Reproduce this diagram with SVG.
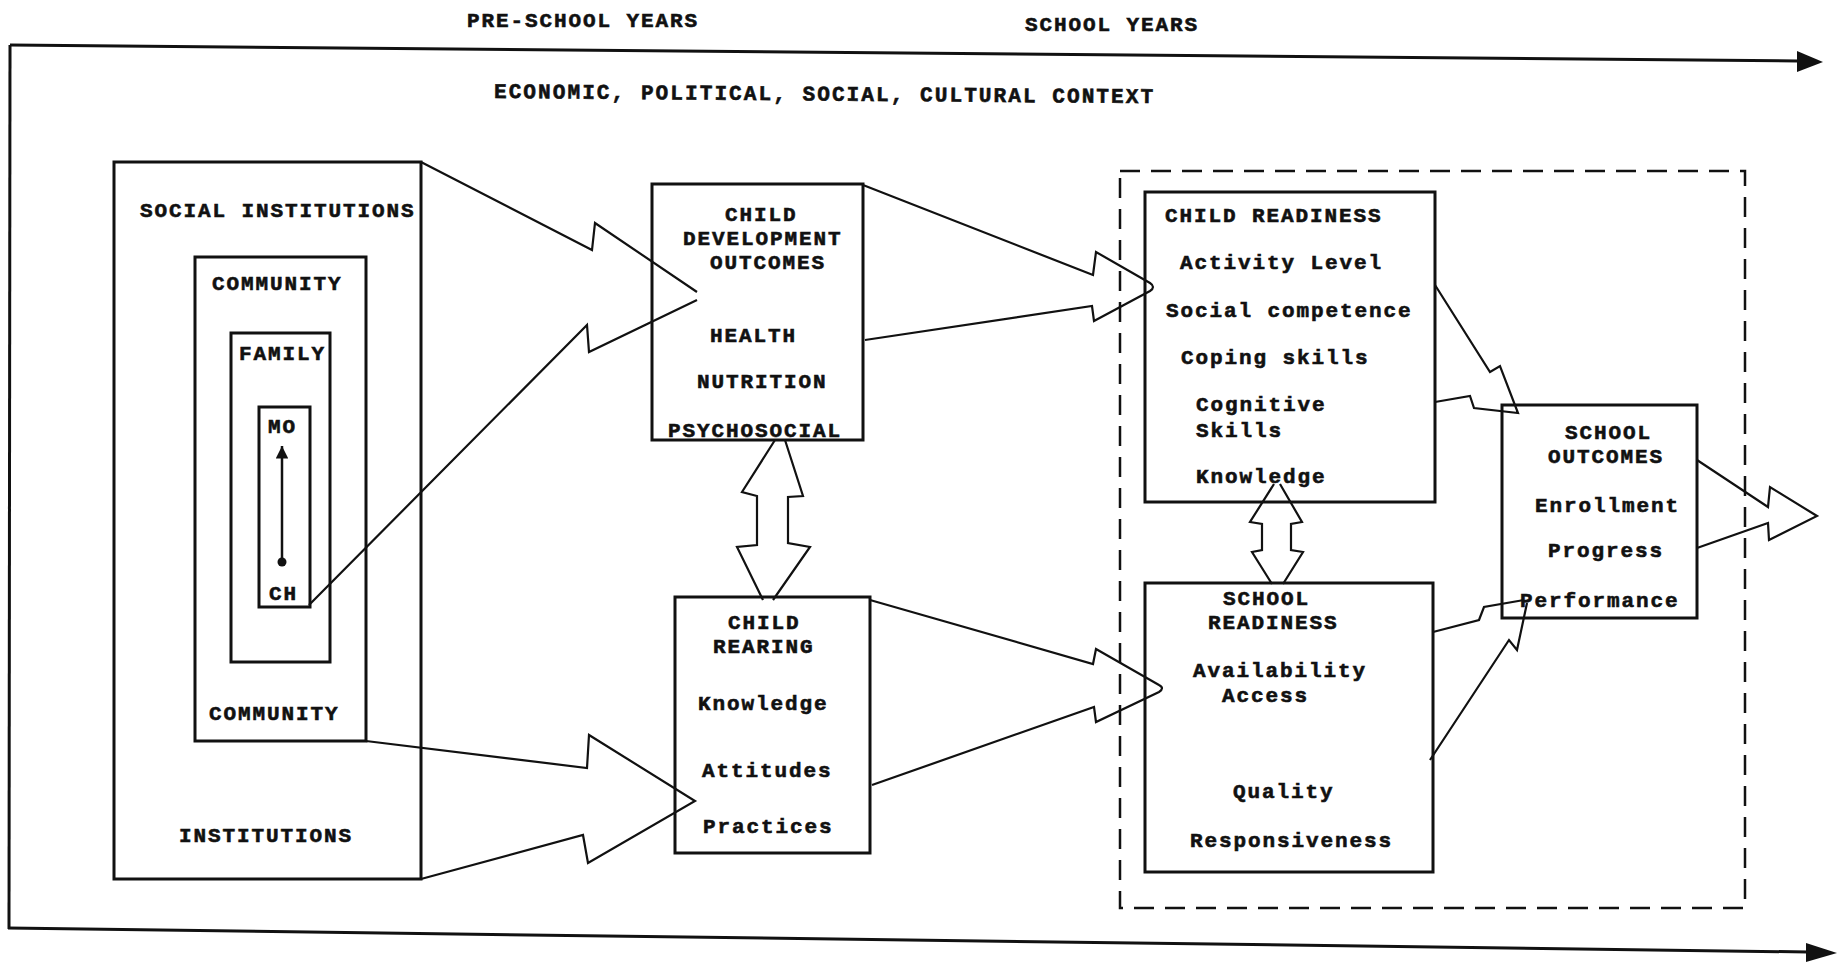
<svg xmlns="http://www.w3.org/2000/svg" width="1845" height="962" viewBox="0 0 1845 962">
<defs>
<style>
.box{fill:none;stroke:#111;stroke-width:3}
.dash{fill:none;stroke:#111;stroke-width:2.5;stroke-dasharray:20 11}
.conn{fill:none;stroke:#111;stroke-width:2.2;stroke-linejoin:miter}
.frame{fill:none;stroke:#111;stroke-width:3}
.t{font-family:"Liberation Mono","Courier New",monospace;font-weight:bold;font-size:21px;letter-spacing:1.9px;fill:#111;stroke:#111;stroke-width:0.6px}
</style>
<marker id="upHead" viewBox="0 0 10 10" refX="10" refY="5" markerWidth="5" markerHeight="5" orient="auto">
<path d="M0,0 L10,5 L0,10 Z" fill="#111"/>
</marker>
</defs>
<rect width="1845" height="962" fill="#fff"/>

<g id="timeline">
<text class="t" x="467" y="27">PRE-SCHOOL YEARS</text>
<text class="t" x="1025" y="31">SCHOOL YEARS</text>
<path class="frame" d="M10,45 L1798,61"/>
<path d="M1797,51 L1823,62 L1797,72 Z" fill="#111"/>
<path class="frame" d="M10,45 L9,929"/>
<path class="frame" d="M8,928 L1808,952"/>
<path d="M1806,943 L1837,953 L1806,962 Z" fill="#111"/>
<text class="t" x="494" y="98" transform="rotate(0.45 494 98)" textLength="661">ECONOMIC, POLITICAL, SOCIAL, CULTURAL CONTEXT</text>
</g>

<g id="social-institutions">
<rect class="box" x="114" y="162" width="307" height="717"/>
<text class="t" x="140" y="217">SOCIAL INSTITUTIONS</text>
<text class="t" x="179" y="842">INSTITUTIONS</text>
</g>

<g id="community">
<rect class="box" x="195" y="257" width="171" height="484"/>
<text class="t" x="212" y="290">COMMUNITY</text>
<text class="t" x="209" y="720">COMMUNITY</text>
</g>

<g id="family">
<rect class="box" x="231" y="333" width="99" height="329"/>
<text class="t" x="239" y="360">FAMILY</text>
</g>

<g id="mother-child">
<rect class="box" x="259" y="407" width="51" height="200"/>
<text class="t" x="268" y="433">MO</text>
<text class="t" x="269" y="600">CH</text>
<line x1="282" y1="562" x2="282" y2="446" stroke="#111" stroke-width="2.5" marker-end="url(#upHead)"/>
<circle cx="282" cy="562" r="4.5" fill="#111"/>
</g>

<g id="child-development-outcomes">
<rect class="box" x="652" y="184" width="211" height="256"/>
<text class="t" x="725" y="221">CHILD</text>
<text class="t" x="683" y="245">DEVELOPMENT</text>
<text class="t" x="710" y="269">OUTCOMES</text>
<text class="t" x="710" y="342">HEALTH</text>
<text class="t" x="697" y="388">NUTRITION</text>
<text class="t" x="668" y="437">PSYCHOSOCIAL</text>
</g>

<g id="child-rearing">
<rect class="box" x="675" y="597" width="195" height="256"/>
<text class="t" x="728" y="629">CHILD</text>
<text class="t" x="713" y="653">REARING</text>
<text class="t" x="698" y="710">Knowledge</text>
<text class="t" x="702" y="777">Attitudes</text>
<text class="t" x="703" y="833">Practices</text>
</g>

<g id="school-years-frame">
<rect class="dash" x="1120" y="171" width="625" height="737"/>
</g>

<g id="child-readiness">
<rect class="box" x="1145" y="192" width="290" height="310"/>
<text class="t" x="1165" y="222">CHILD READINESS</text>
<text class="t" x="1180" y="269">Activity Level</text>
<text class="t" x="1166" y="317">Social competence</text>
<text class="t" x="1181" y="364">Coping skills</text>
<text class="t" x="1196" y="411">Cognitive</text>
<text class="t" x="1196" y="437">Skills</text>
<text class="t" x="1196" y="483">Knowledge</text>
</g>

<g id="school-readiness">
<rect class="box" x="1145" y="583" width="288" height="289"/>
<text class="t" x="1223" y="605">SCHOOL</text>
<text class="t" x="1208" y="629">READINESS</text>
<text class="t" x="1193" y="677">Availability</text>
<text class="t" x="1222" y="702">Access</text>
<text class="t" x="1233" y="798">Quality</text>
<text class="t" x="1190" y="847">Responsiveness</text>
</g>

<g id="school-outcomes">
<rect class="box" x="1502" y="405" width="195" height="213"/>
<text class="t" x="1565" y="439">SCHOOL</text>
<text class="t" x="1548" y="463">OUTCOMES</text>
<text class="t" x="1535" y="512">Enrollment</text>
<text class="t" x="1548" y="557">Progress</text>
<text class="t" x="1520" y="607">Performance</text>
</g>

<g id="connectors">
<path class="conn" d="M421,162 L592,250 L595,223 L697,292"/>
<path class="conn" d="M309,605 L587,325 L589,352 L697,300"/>
<path class="conn" d="M863,185 L1093,275 L1096,252 L1150,283 Q1156,287 1150,291 L1094,321 L1092,306 L865,340"/>
<path class="conn" d="M366,741 L587,768 L589,735 L695,801 L588,863 L583,835 L421,879"/>
<path class="conn" d="M870,600 L1093,664 L1096,649 L1159,685 Q1165,688 1159,692 L1096,722 L1094,707 L872,785"/>
<path class="conn" d="M775,440 L742,492 L757,496 L757,545 L737,547 L763,600"/>
<path class="conn" d="M785,440 L803,496 L788,497 L788,543 L810,547 L773,600"/>
<path class="conn" d="M1274,484 L1250,522 L1262,524 L1262,550 L1252,552 L1272,584"/>
<path class="conn" d="M1280,484 L1302,522 L1291,524 L1291,550 L1303,552 L1283,584"/>
<path class="conn" d="M1435,285 L1490,372 L1500,366 L1518,413 L1474,408 L1470,396 L1435,402"/>
<path class="conn" d="M1433,632 L1479,620 L1484,607 L1524,600"/>
<path class="conn" d="M1430,760 L1509,640 L1517,650 L1527,603"/>
<path class="conn" d="M1697,460 L1768,507 L1770,487 L1817,516 L1769,540 L1768,523 L1697,548"/>
</g>
</svg>
